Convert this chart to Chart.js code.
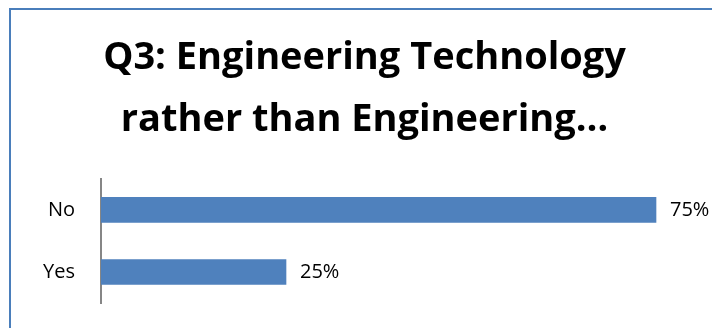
<!DOCTYPE html>
<html>
<head>
<meta charset="utf-8">
<script src="https://cdn.jsdelivr.net/npm/chart.js@4.4.1/dist/chart.umd.min.js"></script>
<style>
    html, body { margin: 0; padding: 0; background: #fff; overflow: hidden; }
    #cadre {
        position: absolute; left: 9px; top: 8px;
        width: 800px; height: 400px;
        border: 2px solid #4a7ebb;
        box-sizing: border-box;
    }
    #zone { position: absolute; left: 0; top: 0; width: 712px; height: 328px; }
</style>
</head>
<body>
<div id="cadre"></div>
<div id="zone"><canvas id="barChart"></canvas></div>
<script>
// Réponses à la question 3
const titre = ["Q3: Engineering Technology", "rather than Engineering…"];
const reponses = ["No", "Yes"];
const parts = [0.75, 0.25];

const pourcent = v => Math.round(v * 100) + "%";

// Étiquettes de valeur au bout de chaque barre
const etiquettes = {
    id: "etiquettes",
    afterDatasetsDraw(chart) {
        const ctx = chart.ctx;
        const meta = chart.getDatasetMeta(0);
        ctx.save();
        ctx.font = "20px 'Open Sans'";
        ctx.fillStyle = "#000";
        ctx.textAlign = "left";
        ctx.textBaseline = "middle";
        meta.data.forEach((bar, i) => {
            ctx.fillText(pourcent(chart.data.datasets[0].data[i]), bar.x + 14, bar.y);
        });
        ctx.restore();
    }
};

const canvas = document.getElementById("barChart");

new Chart(canvas, {
    type: "bar",
    plugins: [etiquettes],
    data: {
        labels: reponses,
        datasets: [{
            data: parts,
            backgroundColor: "#4f81bd",
            borderWidth: 0,
            barThickness: 25
        }]
    },
    options: {
        indexAxis: "y",
        responsive: true,
        maintainAspectRatio: false,
        animation: false,
        layout: {
            padding: { left: 36, right: 19, top: 0, bottom: 25 }
        },
        plugins: {
            legend: { display: false },
            tooltip: { enabled: false },
            title: {
                display: true,
                text: titre,
                color: "#000",
                font: { family: "'Open Sans'", size: 38, weight: "bold", lineHeight: 1.63 },
                padding: { top: 27, bottom: 28 }
            }
        },
        scales: {
            x: {
                display: false,
                min: 0,
                max: 0.8
            },
            y: {
                grid: { display: false, drawTicks: false },
                border: { display: true, color: "#868686", width: 2 },
                ticks: {
                    color: "#000",
                    padding: 26,
                    font: { family: "'Open Sans'", size: 20 }
                },
                // largeur fixe, et pas de marge verticale due au padding des libellés
                afterFit: (scale) => {
                    scale.width = 65;
                    scale.paddingTop = 0;
                    scale.paddingBottom = 0;
                }
            }
        }
    }
});
</script>
</body>
</html>
